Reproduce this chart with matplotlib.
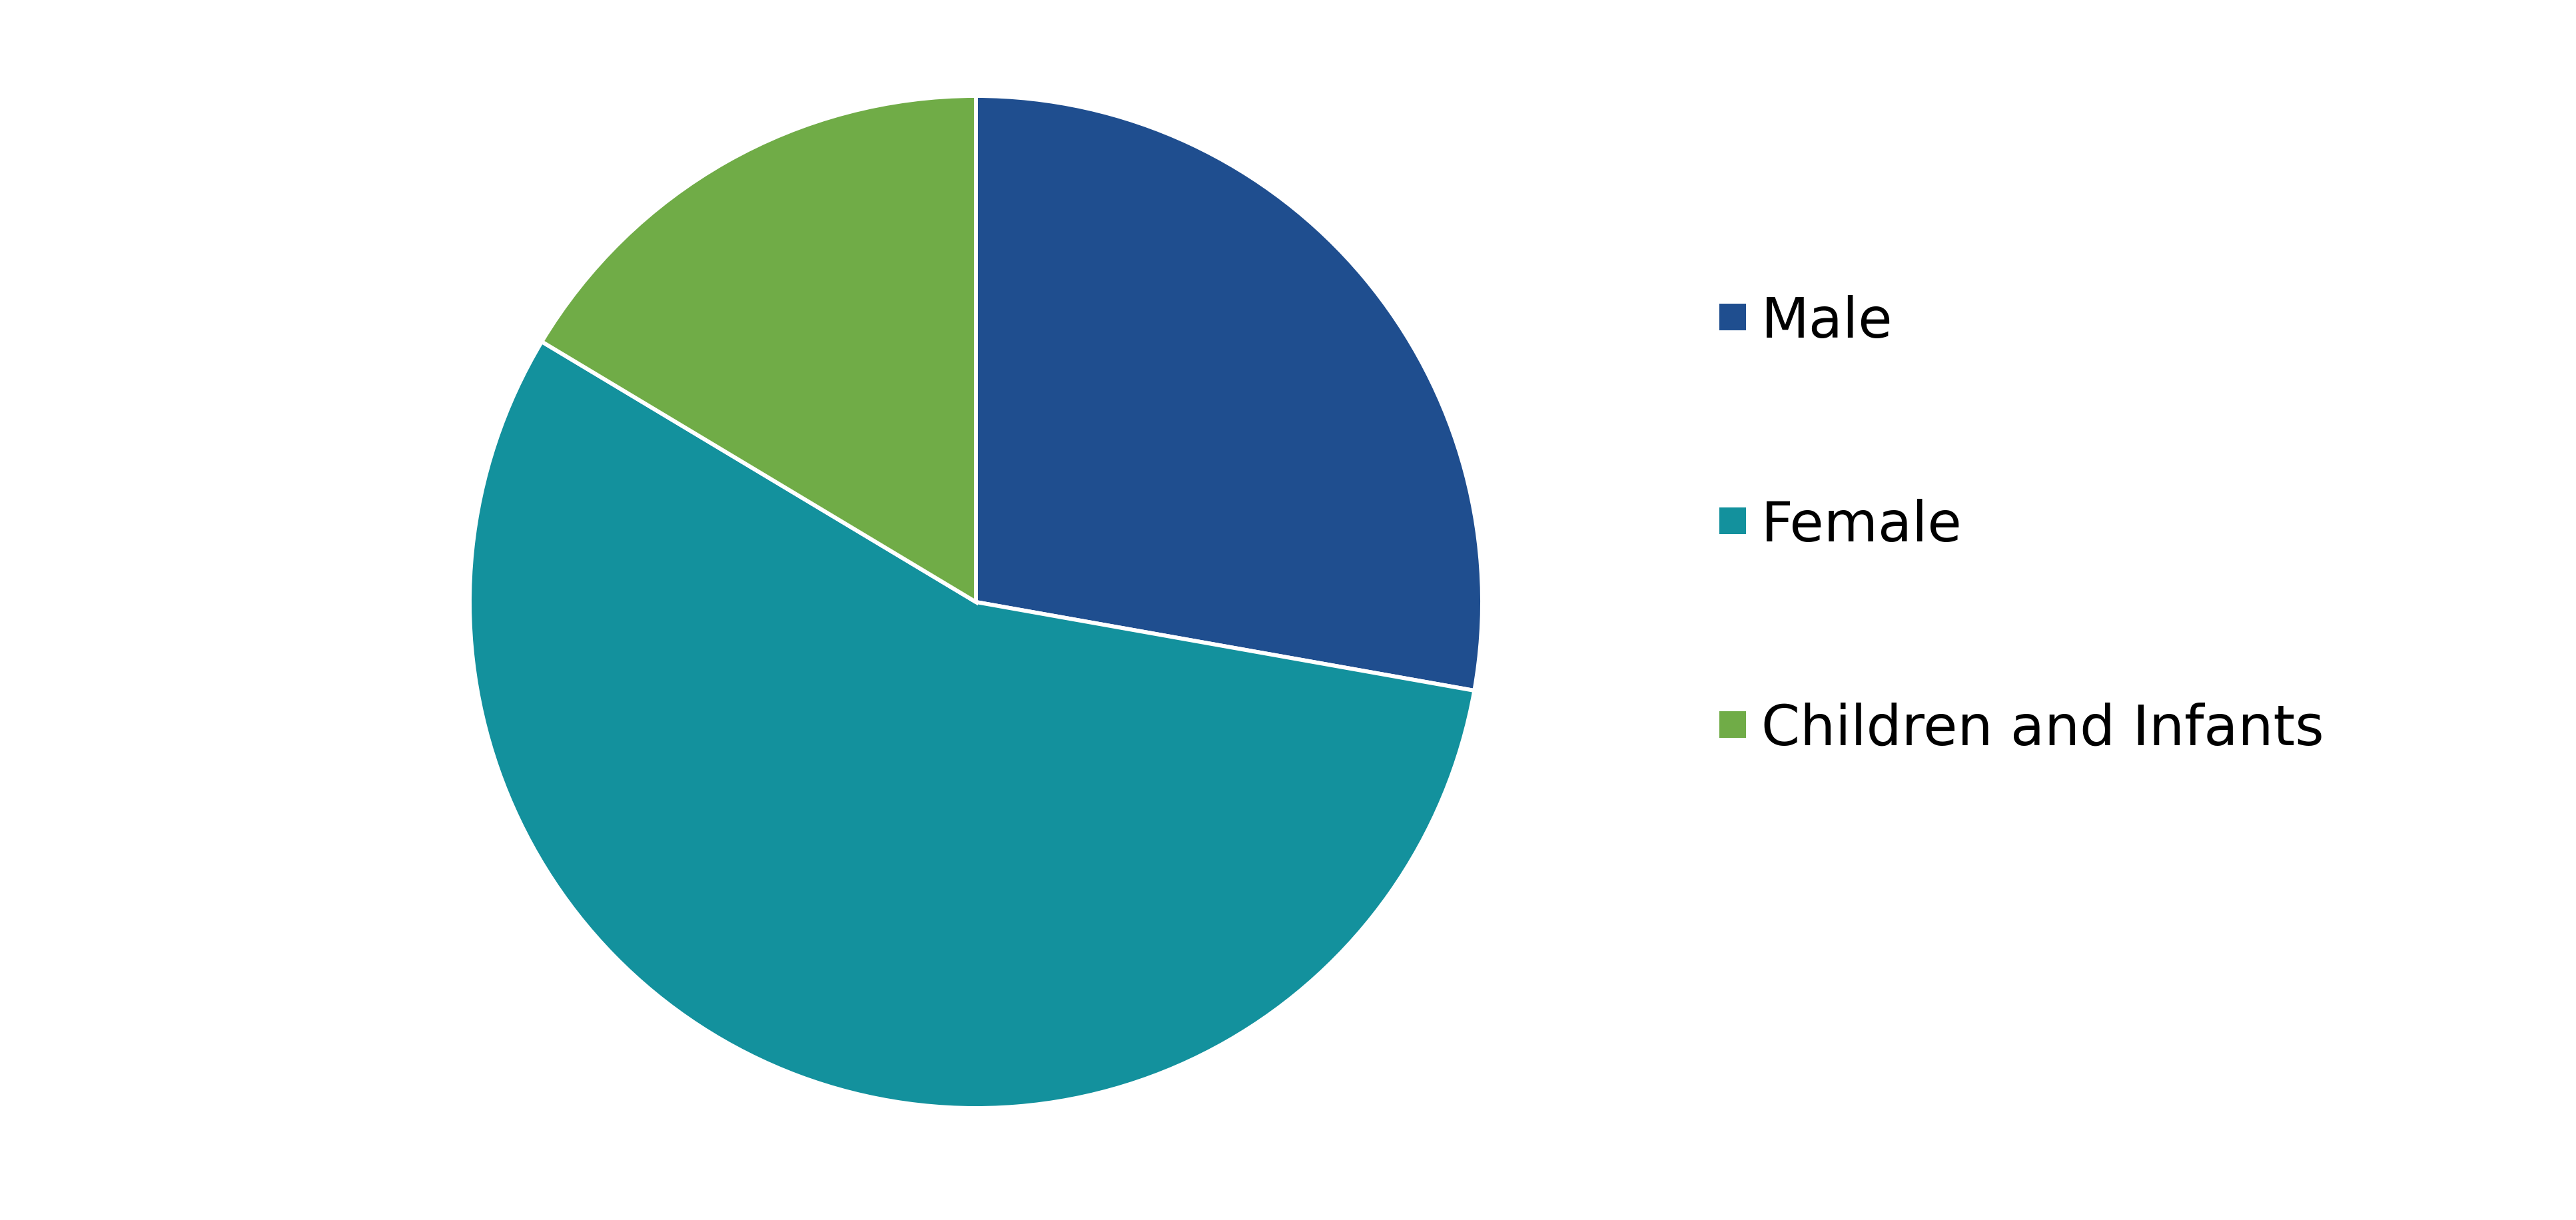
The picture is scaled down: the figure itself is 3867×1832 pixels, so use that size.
import matplotlib
matplotlib.use("Agg")
import matplotlib.pyplot as plt
from matplotlib.patches import Rectangle

categories = ["Male", "Female", "Children and Infants"]
values = [27.8, 55.8, 16.4]
colors = ["#1F4E8F", "#13919D", "#70AC47"]

W, H = 3867, 1832
fig = plt.figure(figsize=(W / 100, H / 100), dpi=100)
fig.patch.set_facecolor("white")

cx, cy, r = 1465, 904, 760
ax = fig.add_axes([(cx - r) / W, (H - cy - r) / H, 2 * r / W, 2 * r / H])
ax.pie(values, colors=colors, startangle=90, counterclock=False,
       wedgeprops=dict(edgecolor="white", linewidth=4.3))
ax.set_xlim(-1, 1)
ax.set_ylim(-1, 1)
ax.set_aspect("equal")
ax.axis("off")

# legend
lx_box, lx_text = 2581, 2644
ys = [476, 782, 1088]
box = 40
for cat, col, y in zip(categories, colors, ys):
    fig.patches.append(Rectangle(((lx_box) / W, (H - y - box / 2) / H), box / W, box / H,
                                 transform=fig.transFigure, facecolor=col, edgecolor="none"))
    fig.text(lx_text / W, (H - y - 7) / H, cat, fontsize=60, va="center", ha="left",
             family="DejaVu Sans", color="black")

fig.savefig("out.png", dpi=100, facecolor="white")
